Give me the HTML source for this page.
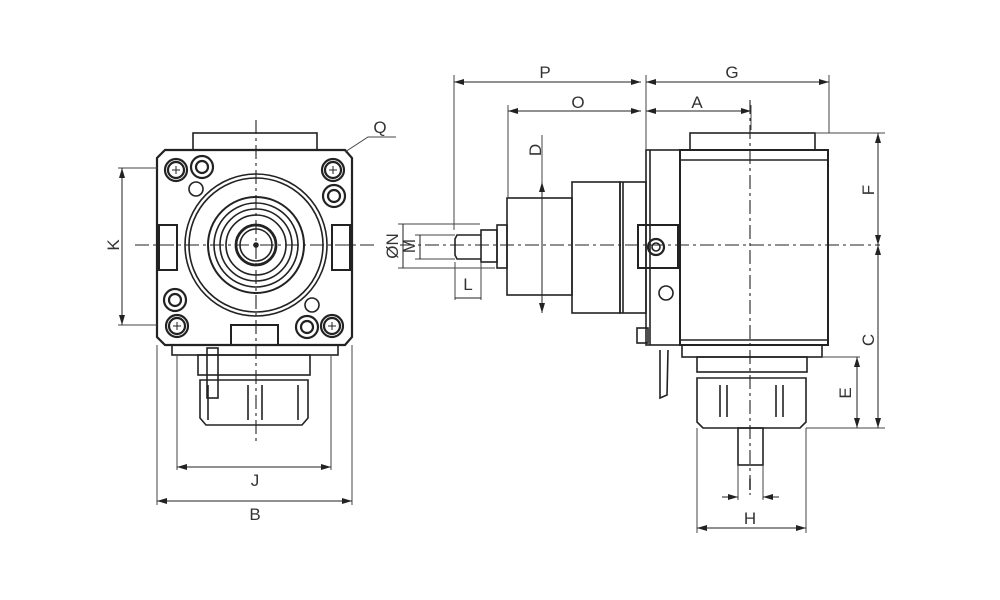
<!DOCTYPE html>
<html><head><meta charset="utf-8"><style>
html,body{margin:0;padding:0;background:#fff;}
svg{display:block;}
text{font-family:"Liberation Sans",sans-serif;font-size:17px;fill:#333;}
</style></head><body>
<svg width="1000" height="600" viewBox="0 0 1000 600" xmlns="http://www.w3.org/2000/svg">
<defs>
<marker id="ar" viewBox="0 0 10 6" refX="10" refY="3" markerWidth="10" markerHeight="6" orient="auto-start-reverse" markerUnits="userSpaceOnUse"><path d="M0,0 L10,3 L0,6 z" fill="#222"/></marker>
</defs>
<g fill="none" stroke="#222" stroke-width="1.6">
<!-- LEFT VIEW -->
<rect x="193" y="133" width="124" height="17"/>
<path d="M165,150 L345,150 L352,158 L352,337 L345,345 L165,345 L157,337 L157,158 Z" stroke-width="2.2"/>
<circle cx="256" cy="245" r="71"/>
<circle cx="256" cy="245" r="67"/>
<circle cx="256" cy="245" r="48" stroke-width="2"/>
<circle cx="256" cy="245" r="42"/>
<circle cx="256" cy="245" r="36"/>
<circle cx="256" cy="245" r="30"/>
<circle cx="256" cy="245" r="20" stroke-width="2.8"/>
<circle cx="256" cy="245" r="16"/>
<circle cx="256" cy="245" r="2" fill="#222"/>
<g stroke-width="2.2">
<circle cx="176" cy="170" r="11"/><circle cx="176" cy="170" r="8"/>
<circle cx="202" cy="167" r="11"/><circle cx="202" cy="167" r="6"/>
<circle cx="333" cy="170" r="11"/><circle cx="333" cy="170" r="8"/>
<circle cx="334" cy="196" r="11"/><circle cx="334" cy="196" r="6"/>
<circle cx="175" cy="300" r="11"/><circle cx="175" cy="300" r="6"/>
<circle cx="177" cy="326" r="11"/><circle cx="177" cy="326" r="8"/>
<circle cx="307" cy="327" r="11"/><circle cx="307" cy="327" r="6"/>
<circle cx="332" cy="326" r="11"/><circle cx="332" cy="326" r="8"/>
</g>
<circle cx="196" cy="189" r="7"/><circle cx="312" cy="305" r="7"/>
<path d="M172,170h8M176,166v8M329,170h8M333,166v8M173,326h8M177,322v8M328,326h8M332,322v8" stroke-width="1"/>
<rect x="159" y="225" width="18" height="45" stroke-width="2"/>
<rect x="332" y="225" width="18" height="45" stroke-width="2"/>
<rect x="231" y="325" width="47" height="20" stroke-width="2"/>
<rect x="172" y="345" width="166" height="10"/>
<rect x="198" y="355" width="112" height="20"/>
<path d="M200,380 L308,380 L308,418 L302,425 L206,425 L200,418 Z"/>
<rect x="207" y="348" width="11" height="50"/>
<path d="M208,385v35M248,385v35M262,385v35M298,385v35" />
<!-- RIGHT VIEW -->
<rect x="690" y="133" width="125" height="17"/>
<rect x="680" y="150" width="148" height="195" stroke-width="2"/>
<path d="M680,160H828M680,340H828"/>
<rect x="646" y="150" width="34" height="195"/>
<path d="M650,150v195"/>
<rect x="638" y="225" width="40" height="43" stroke-width="2"/>
<circle cx="656" cy="247" r="8" stroke-width="2.2"/><circle cx="656" cy="247" r="4"/>
<circle cx="666" cy="293" r="7"/>
<rect x="637" y="328" width="11" height="15"/>
<path d="M660,350 L660,398 L667,395 L668,350"/>
<rect x="620" y="182" width="26" height="131"/>
<path d="M623,182v131"/>
<rect x="572" y="182" width="48" height="131"/>
<rect x="507" y="198" width="65" height="97"/>
<rect x="497" y="225" width="10" height="43"/>
<rect x="481" y="230" width="16" height="32"/>
<path d="M481,235 H457 L455,239 V255 L457,259 H481"/>
<rect x="682" y="345" width="140" height="12"/>
<rect x="697" y="357" width="110" height="15"/>
<path d="M697,378 L806,378 L806,422 L800,428 L703,428 L697,422 Z"/>
<path d="M720,385v32M727,385v32M776,385v32M783,385v32"/>
<rect x="738" y="428" width="25" height="37"/>
</g>
<g stroke="#222" stroke-width="1.1" stroke-dasharray="14,4,3,4" fill="none">
<path d="M256,120V445M135,245H375"/>
<path d="M400,245H880M750,100V495"/>
</g>
<g stroke="#444" stroke-width="1" fill="none">
<path d="M157,345V505M352,345V505M177,355V470M331,355V470"/>
<path d="M118,168H157M118,325H157"/>
<path d="M345,152L368,137H396"/>
<path d="M454,75V230M508,105V198M646,75V150M829,75V133M751,105V130"/>
<path d="M398,224H480M398,268H495M415,235H455M415,259H455M455,262V300M481,262V300"/>
<path d="M542,135V182M815,133H885M806,428H885M822,357H860M697,428V533M806,428V533M738,465V500M763,465V500"/>
</g>
<g stroke="#222" stroke-width="1" fill="none">
<path d="M177,467H331" marker-start="url(#ar)" marker-end="url(#ar)"/>
<path d="M157,501H352" marker-start="url(#ar)" marker-end="url(#ar)"/>
<path d="M122,168V325" marker-start="url(#ar)" marker-end="url(#ar)"/>
<path d="M454,82H641" marker-start="url(#ar)" marker-end="url(#ar)"/>
<path d="M646,82H829" marker-start="url(#ar)" marker-end="url(#ar)"/>
<path d="M508,111H641" marker-start="url(#ar)" marker-end="url(#ar)"/>
<path d="M646,111H751" marker-start="url(#ar)" marker-end="url(#ar)"/>
<path d="M542,182V313" marker-start="url(#ar)" marker-end="url(#ar)"/>
<path d="M403,224V268"/>
<path d="M420,235V259"/>
<path d="M455,298H481"/>
<path d="M878,133V245" marker-start="url(#ar)" marker-end="url(#ar)"/>
<path d="M878,245V428" marker-start="url(#ar)" marker-end="url(#ar)"/>
<path d="M857,357V428" marker-start="url(#ar)" marker-end="url(#ar)"/>
<path d="M697,528H806" marker-start="url(#ar)" marker-end="url(#ar)"/>
<path d="M722,497H738" marker-end="url(#ar)"/>
<path d="M779,497H763" marker-end="url(#ar)"/>
</g>
<g text-anchor="middle">
<text x="380" y="133">Q</text>
<text x="255" y="486">J</text>
<text x="255" y="520">B</text>
<text x="545" y="78">P</text>
<text x="732" y="78">G</text>
<text x="578" y="108">O</text>
<text x="697" y="108">A</text>
<text x="468" y="290">L</text>
<text x="750" y="524">H</text>
<text x="750" y="490">I</text>
<text transform="translate(119,245) rotate(-90)">K</text>
<text transform="translate(541,150) rotate(-90)">D</text>
<text transform="translate(398,246) rotate(-90)">ØN</text>
<text transform="translate(415,246) rotate(-90)">M</text>
<text transform="translate(874,190) rotate(-90)">F</text>
<text transform="translate(874,340) rotate(-90)">C</text>
<text transform="translate(851,393) rotate(-90)">E</text>
</g>
</svg>
</body></html>
